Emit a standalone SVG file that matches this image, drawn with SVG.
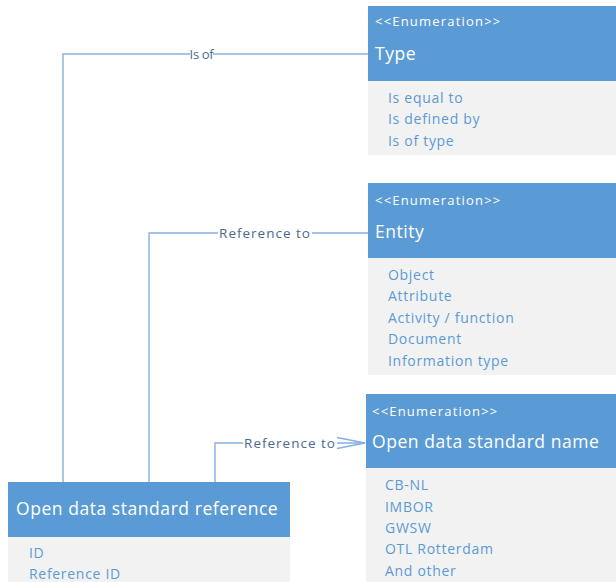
<svg xmlns="http://www.w3.org/2000/svg" width="616" height="582" viewBox="0 0 616 582">
  <defs>
    <style>
      .hdr { fill: #5B9BD5; }
      .body { fill: #F2F2F2; }
      .stereo { font-family: "Open Sans", "Noto Sans", sans-serif; font-size: 13px; letter-spacing: 1.2px; fill: #FFFFFF; }
      .title { font-family: "Open Sans", "Noto Sans", sans-serif; font-size: 17.5px; letter-spacing: 0.55px; fill: #FFFFFF; }
      .item { font-family: "Open Sans", "Noto Sans", sans-serif; font-size: 14px; letter-spacing: 0.7px; fill: #5B9BD5; }
      .conn { fill: none; stroke: #86B0DF; stroke-width: 1.4; }
      .lbl { font-family: "Open Sans", "Noto Sans", sans-serif; font-size: 13.5px; letter-spacing: 1px; fill: #4A6A8F; text-anchor: middle; }
      .lbl.tight { font-size: 13px; letter-spacing: -0.3px; }
      .lblbg { fill: #FFFFFF; }
    </style>
    <marker id="openArrow" markerWidth="32" markerHeight="14" refX="30" refY="7" orient="auto" markerUnits="userSpaceOnUse">
      <path d="M2,1.5 L30,7 L2,12.5" fill="none" stroke="#86B0DF" stroke-width="1.4"/>
    </marker>
  </defs>

  <rect width="616" height="582" fill="#FFFFFF"/>

  <!-- connectors -->
  <g id="connectors">
    <path class="conn" d="M63,482 V54 H368"/>
    <rect class="lblbg" x="190" y="46" width="23" height="16"/>
    <text class="lbl tight" x="201.5" y="59">Is of</text>

    <path class="conn" d="M149,482 V233 H368"/>
    <rect class="lblbg" x="218" y="225" width="94" height="16"/>
    <text class="lbl" x="265" y="238">Reference to</text>

    <path class="conn" d="M215,482 V443 H365" marker-end="url(#openArrow)"/>
    <rect class="lblbg" x="243" y="435" width="94" height="16"/>
    <text class="lbl" x="290" y="448">Reference to</text>
  </g>

  <!-- Type enumeration -->
  <g id="type">
    <rect class="hdr" x="368" y="6" width="248" height="75"/>
    <rect class="body" x="368" y="81" width="248" height="74"/>
    <text class="stereo" x="375" y="26">&lt;&lt;Enumeration&gt;&gt;</text>
    <text class="title" x="375" y="60">Type</text>
    <text class="item" x="388" y="103">Is equal to</text>
    <text class="item" x="388" y="124">Is defined by</text>
    <text class="item" x="388" y="146">Is of type</text>
  </g>

  <!-- Entity enumeration -->
  <g id="entity">
    <rect class="hdr" x="368" y="183" width="248" height="75"/>
    <rect class="body" x="368" y="258" width="248" height="117"/>
    <text class="stereo" x="375" y="205">&lt;&lt;Enumeration&gt;&gt;</text>
    <text class="title" x="375" y="238">Entity</text>
    <text class="item" x="388" y="280">Object</text>
    <text class="item" x="388" y="301">Attribute</text>
    <text class="item" x="388" y="323">Activity / function</text>
    <text class="item" x="388" y="344">Document</text>
    <text class="item" x="388" y="366">Information type</text>
  </g>

  <!-- Open data standard name enumeration -->
  <g id="ods-name">
    <rect class="hdr" x="366" y="394" width="250" height="74"/>
    <rect class="body" x="366" y="468" width="250" height="114"/>
    <text class="stereo" x="372" y="416">&lt;&lt;Enumeration&gt;&gt;</text>
    <text class="title" x="372" y="448">Open data standard name</text>
    <text class="item" x="385" y="490">CB-NL</text>
    <text class="item" x="385" y="512">IMBOR</text>
    <text class="item" x="385" y="533">GWSW</text>
    <text class="item" x="385" y="554">OTL Rotterdam</text>
    <text class="item" x="385" y="576">And other</text>
  </g>

  <!-- Open data standard reference class -->
  <g id="ods-reference">
    <rect class="hdr" x="8" y="482" width="282" height="55"/>
    <rect class="body" x="8" y="537" width="282" height="45"/>
    <text class="title" x="16" y="515">Open data standard reference</text>
    <text class="item" x="29" y="558">ID</text>
    <text class="item" x="29" y="579">Reference ID</text>
  </g>
</svg>
